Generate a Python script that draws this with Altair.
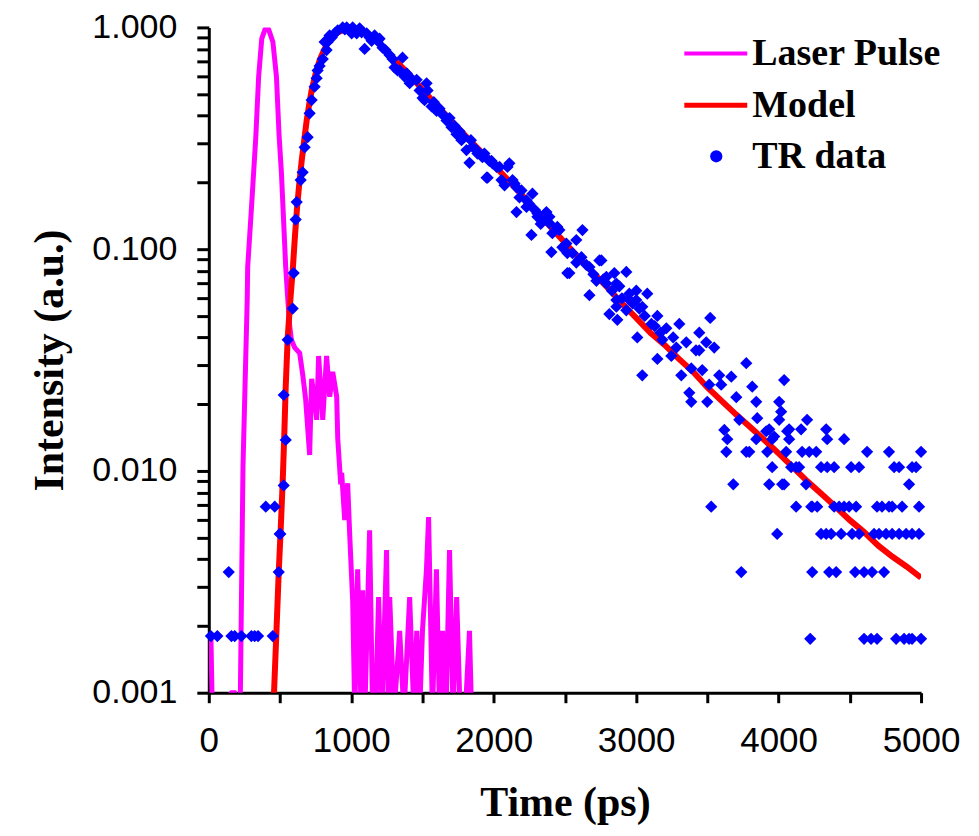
import altair as alt
import pandas as pd

# ---------------- data ----------------
# values of 0.0008 stand for points that fall below the 0.001 floor (clipped in the picture)
pulse_time = [15, 25, 35, 160, 180, 220, 240, 270, 273, 300, 330, 350, 372, 395, 407, 420, 450, 475, 493, 510,
              540, 555, 568, 580, 603, 638, 660, 680, 708, 722, 743, 757, 771, 800, 827, 849, 870, 898, 905,
              926, 933, 954, 975, 989, 1010, 1025, 1045, 1070, 1080, 1095, 1129, 1150, 1170, 1192, 1215,
              1248, 1260, 1270, 1300, 1340, 1370, 1410, 1440, 1460, 1480, 1500, 1528, 1543, 1570, 1598,
              1620, 1641, 1665, 1690, 1715, 1740, 1765, 1800, 1830, 1845]
pulse_value = [0.0018, 0.0008, 0.0008, 0.001, 0.001, 0.0008, 0.0104, 0.06, 0.083, 0.155, 0.32, 0.6, 0.89, 0.98,
               1.0, 0.98, 0.86, 0.6, 0.33, 0.22, 0.083, 0.059, 0.045, 0.039, 0.036, 0.034, 0.027, 0.021,
               0.0118, 0.026, 0.021, 0.017, 0.033, 0.017, 0.033, 0.0216, 0.028, 0.0216, 0.0141, 0.0087,
               0.0098, 0.006, 0.0088, 0.0052, 0.0026, 0.0008, 0.0036, 0.0008, 0.0029, 0.0008, 0.0054, 0.0008,
               0.0008, 0.0027, 0.0008, 0.0044, 0.0008, 0.0027, 0.0008, 0.0019, 0.0008, 0.0027, 0.0008,
               0.0019, 0.0008, 0.0019, 0.0036, 0.0062, 0.0008, 0.0036, 0.0008, 0.0019, 0.0008, 0.0044,
               0.0008, 0.0027, 0.0008, 0.0008, 0.0019, 0.0008]

model_time = [452, 475, 491, 505, 519, 530, 540, 554, 575, 589, 605, 620, 636, 652, 670, 687, 705, 722, 750,
              778, 805, 830, 870, 900, 940, 980, 1020, 1060, 1100, 1150, 1200, 1250, 1300, 1400, 1500, 1600,
              1700, 1800, 1900, 2000, 2100, 2200, 2300, 2400, 2500, 2600, 2700, 2800, 2900, 3000, 3100,
              3200, 3300, 3400, 3500, 3600, 3700, 3800, 3900, 4000, 4100, 4200, 4300, 4400, 4500, 4600,
              4700, 4800, 4900, 5000]
model_value = [0.0008, 0.0019, 0.0035, 0.0055, 0.009, 0.0145, 0.024, 0.04, 0.062, 0.08, 0.115, 0.155, 0.2,
               0.25, 0.31, 0.38, 0.45, 0.52, 0.62, 0.71, 0.78, 0.84, 0.91, 0.945, 0.97, 0.985, 0.99, 0.98,
               0.95, 0.9, 0.84, 0.78, 0.72, 0.62, 0.525, 0.445, 0.38, 0.325, 0.28, 0.24, 0.205, 0.175, 0.148,
               0.126, 0.107, 0.091, 0.078, 0.067, 0.057, 0.049, 0.042, 0.037, 0.032, 0.028, 0.0238, 0.0207,
               0.018, 0.0158, 0.0138, 0.012, 0.0104, 0.009, 0.0079, 0.0069, 0.006, 0.0053, 0.0046, 0.0041,
               0.0037, 0.0033]

tr_time = [15, 60, 140, 159, 182, 229, 299, 322, 346, 400, 449, 463, 491, 498, 502, 526, 540, 526, 554, 589,
           596, 610, 617, 645, 659, 673, 694, 708, 722, 743, 757, 764, 778, 800, 813, 827, 834, 848, 863, 884,
           905, 940, 955, 968, 989, 1003, 1010, 1024, 1038, 1059, 1073, 1094, 1108, 1129, 1143, 1164, 1185,
           1199, 1220, 1240, 1269, 1290, 1304, 1325, 1340, 1360, 1374, 1390, 1410, 1430, 1459, 1480, 1501,
           1515, 1529, 1536, 1564, 1580, 1599, 1620, 1634, 1650, 1669, 1690, 1704, 1725, 1739, 1760, 1774,
           1790, 1809, 1830, 1840, 1851, 1879, 1886, 1921, 1935, 1950, 1957, 1970, 1985, 1992, 2020, 2041,
           2055, 2076, 2097, 2110, 2132, 2146, 2160, 2160, 2181, 2195, 2230, 2230, 2250, 2265, 2272, 2290,
           2307, 2307, 2330, 2342, 2370, 2391, 2391, 2405, 2412, 2447, 2461, 2482, 2510, 2517, 2517, 2531,
           2553, 2580, 2580, 2600, 2616, 2623, 2650, 2672, 2672, 2700, 2721, 2742, 2756, 2770, 2791, 2791,
           2812, 2830, 2847, 2861, 2861, 2861, 2868, 2882, 2900, 2931, 2931, 2952, 2952, 2975, 3001, 3001,
           3008, 3022, 3043, 3043, 3060, 3078, 3107, 3130, 3149, 3149, 3170, 3184, 3212, 3247, 3260, 3282,
           3303, 3317, 3352, 3373, 3387, 3387, 3420, 3443, 3443, 3464, 3492, 3499, 3513, 3520, 3527, 3548,
           3583, 3597, 3619, 3633, 3640, 3668, 3682, 3703, 3724, 3738, 3773, 3773, 3794, 3815, 3843, 3843,
           3850, 3913, 3920, 3934, 3934, 3955, 3955, 3969, 3990, 4004, 4004, 4018, 4025, 4039, 4039, 4053,
           4060, 4074, 4074, 4088, 4123, 4123, 4144, 4158, 4165, 4193, 4200, 4215, 4222, 4229, 4236, 4236,
           4264, 4271, 4298, 4298, 4334, 4334, 4341, 4341, 4355, 4369, 4390, 4390, 4404, 4425, 4439, 4460,
           4460, 4495, 4509, 4516, 4537, 4544, 4565, 4565, 4600, 4600, 4621, 4649, 4656, 4670, 4691, 4691,
           4705, 4726, 4740, 4754, 4775, 4775, 4797, 4797, 4811, 4825, 4846, 4846, 4867, 4881, 4895, 4916,
           4916, 4937, 4937, 4937, 4965, 4986, 4986, 5000, 5000]
tr_value = [0.0018, 0.0018, 0.0035, 0.0018, 0.0018, 0.0018, 0.0018, 0.0018, 0.0018, 0.0069, 0.0018, 0.0069,
            0.0035, 0.0052, 0.0052, 0.0086, 0.0138, 0.022, 0.039, 0.054, 0.078, 0.136, 0.163, 0.205, 0.222,
            0.288, 0.32, 0.41, 0.47, 0.54, 0.59, 0.64, 0.67, 0.72, 0.86, 0.79, 0.86, 0.92, 0.90, 0.94, 0.97,
            1.0, 0.98, 1.0, 0.97, 0.94, 1.0, 0.97, 0.94, 0.99, 0.95, 0.80, 0.94, 0.90, 0.87, 0.92, 0.87, 0.89,
            0.81, 0.79, 0.75, 0.72, 0.66, 0.64, 0.64, 0.73, 0.60, 0.62, 0.56, 0.58, 0.58, 0.52, 0.48, 0.47,
            0.56, 0.52, 0.44, 0.46, 0.42, 0.43, 0.41, 0.40, 0.38, 0.39, 0.355, 0.36, 0.33, 0.34, 0.31, 0.32,
            0.28, 0.245, 0.31, 0.29, 0.28, 0.27, 0.26, 0.27, 0.21, 0.21, 0.25, 0.25, 0.244, 0.235, 0.235,
            0.205, 0.194, 0.235, 0.244, 0.205, 0.198, 0.19, 0.147, 0.171, 0.184, 0.166, 0.155, 0.16, 0.116,
            0.178, 0.15, 0.145, 0.14, 0.13, 0.135, 0.147, 0.14, 0.131, 0.097, 0.118, 0.126, 0.122, 0.102,
            0.106, 0.096, 0.078, 0.078, 0.096, 0.11, 0.087, 0.09, 0.092, 0.122, 0.085, 0.083, 0.062, 0.077,
            0.072, 0.089, 0.089, 0.073, 0.075, 0.070, 0.051, 0.065, 0.078, 0.070, 0.059, 0.055, 0.048, 0.068,
            0.06, 0.079, 0.053, 0.063, 0.059, 0.057, 0.059, 0.065, 0.040, 0.054, 0.055, 0.027, 0.05, 0.063,
            0.046, 0.045, 0.050, 0.032, 0.042, 0.039, 0.044, 0.033, 0.04, 0.036, 0.046, 0.027, 0.038, 0.0225,
            0.029, 0.0205, 0.035, 0.042, 0.035, 0.0285, 0.038, 0.0205, 0.0245, 0.049, 0.0069, 0.036, 0.027,
            0.0245, 0.0153, 0.0122, 0.0139, 0.0266, 0.0087, 0.0215, 0.0170, 0.0035, 0.0306, 0.0122, 0.0122,
            0.024, 0.0205, 0.0139, 0.0173, 0.0151, 0.0122, 0.0154, 0.0087, 0.0139, 0.0104, 0.0143, 0.0052,
            0.0205, 0.0170, 0.0185, 0.0087, 0.0257, 0.0087, 0.0122, 0.0151, 0.0154, 0.0139, 0.0104, 0.0104,
            0.0069, 0.0104, 0.0154, 0.0122, 0.0087, 0.0170, 0.0122, 0.00175, 0.0069, 0.0035, 0.0069, 0.0122,
            0.0069, 0.0104, 0.0052, 0.0154, 0.0052, 0.0139, 0.0104, 0.0035, 0.0052, 0.0104, 0.0069, 0.0035,
            0.0069, 0.0052, 0.0139, 0.0069, 0.0069, 0.0104, 0.0052, 0.0035, 0.0069, 0.0104, 0.0052, 0.0035,
            0.00175, 0.0122, 0.00175, 0.0035, 0.0052, 0.0069, 0.00175, 0.0052, 0.0069, 0.0035, 0.0052,
            0.0122, 0.0069, 0.0069, 0.0052, 0.0104, 0.00175, 0.0104, 0.0052, 0.0069, 0.00175, 0.0052, 0.0087,
            0.00175, 0.0104, 0.0052, 0.00175, 0.0104, 0.0069, 0.0052, 0.0122, 0.00175]

legend_labels = ["Laser Pulse", "Model", "TR data"]
x_tick_values = list(range(0, 5001, 500))
y_tick_values = [round(m * 10 ** e, 6) for e in (-3, -2, -1) for m in range(1, 10)] + [1.0]

# ---------------- chart ----------------
W, H = 713, 666
MAGENTA, RED, BLUE = "#FF00FF", "#FF0000", "#0000FF"

pulse_df = pd.DataFrame({"t": pulse_time, "v": pulse_value})
model_df = pd.DataFrame({"t": model_time, "v": model_value})
tr_df = pd.DataFrame({"t": tr_time, "v": tr_value})

x_scale = alt.Scale(domain=[0, 5000], nice=False)
y_scale = alt.Scale(type="log", domain=[0.001, 1], nice=False)

x_axis = alt.Axis(values=x_tick_values, format="d",
                  labelExpr="datum.value % 1000 == 0 ? datum.label : ''",
                  title="Time (ps)", grid=False, tickSize=10, tickWidth=3, tickColor="black",
                  domainColor="black", domainWidth=3, labelFont="Liberation Sans", labelFontSize=35,
                  labelColor="black", labelPadding=21, labelFlush=False, labelOverlap=False,
                  titleFont="Liberation Serif", titleFontSize=42, titleFontWeight="bold",
                  titleColor="black", titlePadding=24)
y_axis = alt.Axis(values=y_tick_values, format=".3f",
                  labelExpr="(datum.value == 0.001 || datum.value == 0.01 || datum.value == 0.1 || datum.value == 1) ? datum.label : ''",
                  title="Intensity (a.u.)", grid=False, tickSize=12, tickWidth=3, tickColor="black",
                  domainColor="black", domainWidth=3, labelFont="Liberation Sans", labelFontSize=34,
                  labelColor="black", labelPadding=20, labelFlush=False, labelOverlap=False,
                  titleFont="Liberation Serif", titleFontSize=42, titleFontWeight="bold",
                  titleColor="black", titlePadding=20)

enc_x = alt.X("t:Q", scale=x_scale, axis=x_axis)
enc_y = alt.Y("v:Q", scale=y_scale, axis=y_axis)

pulse = alt.Chart(pulse_df).mark_line(color=MAGENTA, strokeWidth=5, clip=True).encode(x=enc_x, y=enc_y)
model = alt.Chart(model_df).mark_line(color=RED, strokeWidth=6, clip=True).encode(x=enc_x, y=enc_y)
tr = alt.Chart(tr_df).mark_point(shape="diamond", filled=True, color=BLUE, size=150,
                                 opacity=1).encode(x=enc_x, y=enc_y)

# ---------------- manual legend ----------------
leg_font = dict(font="Liberation Serif", fontSize=38, fontWeight="bold", color="black",
                align="left", baseline="middle")
leg_items = []
leg_rows = [26, 78, 129]
leg_items.append(alt.Chart(pd.DataFrame({"a": [0]})).mark_rule(color=MAGENTA, strokeWidth=4).encode(
    x=alt.value(476), x2=alt.value(539), y=alt.value(leg_rows[0])))
leg_items.append(alt.Chart(pd.DataFrame({"a": [0]})).mark_rule(color=RED, strokeWidth=5).encode(
    x=alt.value(476), x2=alt.value(539), y=alt.value(leg_rows[1])))
leg_items.append(alt.Chart(pd.DataFrame({"a": [0]})).mark_point(shape="circle", filled=True, color=BLUE,
                                                                size=150, opacity=1).encode(
    x=alt.value(508), y=alt.value(leg_rows[2])))
for lbl, row in zip(legend_labels, leg_rows):
    leg_items.append(alt.Chart(pd.DataFrame({"label": [lbl]})).mark_text(**leg_font).encode(
        text="label:N", x=alt.value(544), y=alt.value(row + 1)))

chart = alt.layer(pulse, model, tr, *leg_items).properties(
    width=W, height=H,
    autosize=alt.AutoSizeParams(type="none"),
    padding={"left": 201, "top": 19, "right": 50, "bottom": 135},
    background="white",
).configure_view(stroke=None)

chart.save("out.html", embed_options={"renderer": "svg", "actions": False})
